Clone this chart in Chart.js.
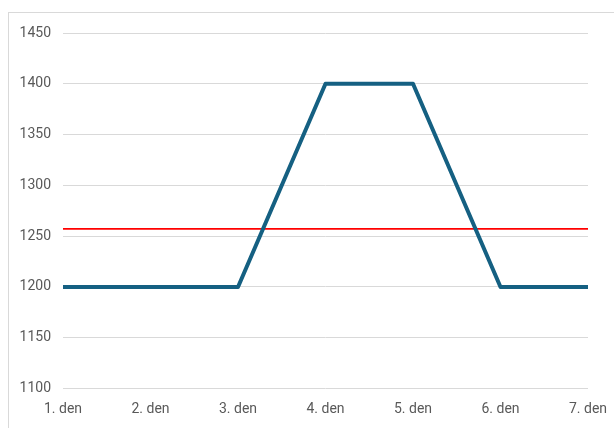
<!DOCTYPE html>
<html>
<head>
<meta charset="utf-8">
<script src="https://cdn.jsdelivr.net/npm/chart.js@4/dist/chart.umd.min.js"></script>
<style>
  html, body { margin: 0; padding: 0; background: #ffffff; }
  body { width: 614px; height: 428px; position: relative; overflow: hidden; }
  .frame { position: absolute; left: 8px; top: 12px; width: 700px; height: 500px;
           border: 1px solid #d9d9d9; box-sizing: border-box; }
  .wrap { position: absolute; left: 0; top: 0; width: 614px; height: 428px; }
</style>
</head>
<body>
<div class="frame"></div>
<div class="wrap"><canvas id="c" width="614" height="428"></canvas></div>
<script>
const days = ['1. den', '2. den', '3. den', '4. den', '5. den', '6. den', '7. den'];
const values = [1200, 1200, 1200, 1400, 1400, 1200, 1200];
const average = [1257.14, 1257.14, 1257.14, 1257.14, 1257.14, 1257.14, 1257.14];
const yTicks = [1100, 1150, 1200, 1250, 1300, 1350, 1400, 1450];

const labelFont = { family: 'Roboto', size: 14 };

new Chart(document.getElementById('c'), {
  type: 'line',
  data: {
    labels: days,
    datasets: [
      {
        data: values,
        borderColor: '#156082',
        borderWidth: 4,
        borderJoinStyle: 'round',
        pointRadius: 0,
        tension: 0,
        fill: false
      },
      {
        data: average,
        borderColor: '#ff0000',
        borderWidth: 1.6,
        pointRadius: 0,
        tension: 0,
        fill: false
      }
    ]
  },
  options: {
    responsive: false,
    animation: false,
    devicePixelRatio: 1,
    layout: { padding: { left: 0, right: 26, top: 33, bottom: 0 } },
    plugins: { legend: { display: false }, tooltip: { enabled: false } },
    scales: {
      x: {
        offset: false,
        grid: { display: false, drawTicks: false },
        border: { display: false },
        ticks: { color: '#595959', font: labelFont, padding: 13, maxRotation: 0, autoSkip: false },
        afterFit: s => { s.height = 39.5; s.paddingRight = 0; s.paddingLeft = 0; }
      },
      y: {
        min: yTicks[0],
        max: yTicks[yTicks.length - 1],
        afterBuildTicks: s => { s.ticks = yTicks.map(v => ({ value: v })); },
        grid: { color: '#d9d9d9', lineWidth: 1, drawTicks: false },
        border: { display: false },
        ticks: { color: '#595959', font: labelFont, padding: 12, callback: v => String(v) },
        afterFit: s => { s.width = 63; }
      }
    }
  }
});
</script>
</body>
</html>
